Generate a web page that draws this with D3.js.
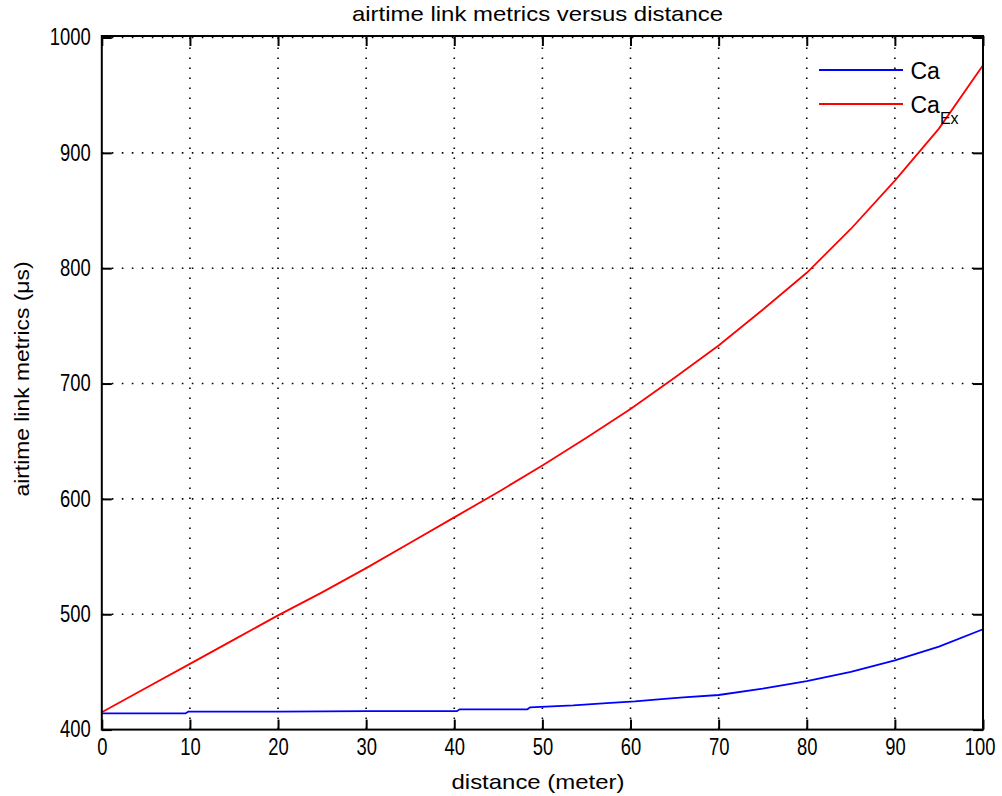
<!DOCTYPE html>
<html>
<head>
<meta charset="utf-8">
<script src="https://d3js.org/d3.v7.min.js"></script>
<title>airtime link metrics versus distance</title>
<style type="text/css">
body {
  margin: 0;
  background: #fff;
}
svg text {
  font-family: "Liberation Sans", Arial, sans-serif;
  fill: #000;
}
.grid line {
  stroke: #000;
  stroke-width: 1.6;
  stroke-dasharray: 1.6 8.4;
}
.axis path { display: none; }
.axis line { stroke: #000; stroke-width: 2; }
</style>
</head>
<body>
<svg id="chart"></svg>

<script>
// distances (meter) and metric values (us)
var redDist = [0, 5, 10, 15, 20, 25, 30, 35, 40, 45, 50, 55, 60, 65, 70, 75, 80, 85, 90, 95, 100];
var redVals = [415, 436, 457, 478, 499, 519, 540, 562, 584, 606, 629, 653, 678, 705, 733, 764, 796, 834, 876, 921, 976];

var blueDist = [0, 9.5, 9.8, 20, 30, 40.3, 40.6, 48.3, 48.6, 53.5, 57.3, 60.5, 63.5, 66, 70, 75, 80, 85, 90, 95, 100];
var blueVals = [414, 414, 415.5, 415.5, 416, 416, 417.6, 417.6, 419.3, 421, 423, 424.5, 426.5, 428, 430, 435.5, 442, 450, 460, 472, 487];

var xTicks = [0, 10, 20, 30, 40, 50, 60, 70, 80, 90, 100];
var yTicks = [400, 500, 600, 700, 800, 900, 1000];

var seriesNames = ["Ca", "Ca"];
var seriesSubs = ["", "Ex"];
var seriesColors = ["#0000ff", "#ff0000"];

var width = 1002, height = 796;
var plotLeft = 101.8, plotRight = 983, plotTop = 37.5, plotBottom = 729.6;

var svg = d3.select("#chart")
  .attr("width", width)
  .attr("height", height);

svg.append("rect")
  .attr("width", width).attr("height", height)
  .attr("fill", "#fff");

var x = d3.scaleLinear().domain([0, 100]).range([plotLeft, plotRight]);
var y = d3.scaleLinear().domain([400, 1000]).range([plotBottom, plotTop]);

// dotted grid
var grid = svg.append("g").attr("class", "grid");
grid.selectAll(".vx")
  .data(xTicks.slice(1, -1))
  .enter().append("line")
  .attr("x1", function(d) { return x(d); })
  .attr("x2", function(d) { return x(d); })
  .attr("y1", plotTop)
  .attr("y2", plotBottom);
grid.selectAll(".hy")
  .data(yTicks.slice(1))
  .enter().append("line")
  .attr("x1", plotLeft)
  .attr("x2", plotRight)
  .attr("y1", function(d) { return y(d); })
  .attr("y2", function(d) { return y(d); });

// series
var line = d3.line()
  .x(function(d) { return x(d[0]); })
  .y(function(d) { return y(d[1]); });

var blueData = d3.zip(blueDist, blueVals);
var redData = d3.zip(redDist, redVals);

svg.append("path")
  .datum(blueData)
  .attr("d", line)
  .attr("fill", "none")
  .attr("stroke", seriesColors[0])
  .attr("stroke-width", 1.8);

svg.append("path")
  .datum(redData)
  .attr("d", line)
  .attr("fill", "none")
  .attr("stroke", seriesColors[1])
  .attr("stroke-width", 1.8);

// axes, ticks pointing inward on all four sides
var xAxisG = svg.append("g")
  .attr("class", "axis")
  .attr("transform", "translate(0," + plotBottom + ")")
  .call(d3.axisBottom(x).tickValues(xTicks).tickFormat(d3.format("d"))
    .tickSizeInner(-10).tickSizeOuter(0).tickPadding(9));

svg.append("g")
  .attr("class", "axis")
  .attr("transform", "translate(" + plotLeft + ",0)")
  .call(d3.axisLeft(y).tickValues(yTicks).tickFormat(d3.format("d"))
    .tickSizeInner(-10).tickSizeOuter(0).tickPadding(11));

svg.append("g")
  .attr("class", "axis")
  .attr("transform", "translate(0,36)")
  .call(d3.axisTop(x).tickValues(xTicks).tickSizeInner(-10).tickSizeOuter(0).tickFormat(""));

svg.append("g")
  .attr("class", "axis")
  .attr("transform", "translate(" + plotRight + ",0)")
  .call(d3.axisRight(y).tickValues(yTicks).tickSizeInner(-10).tickSizeOuter(0).tickFormat(""));

// squeeze tick labels a bit, the original font is narrow
svg.selectAll(".axis text")
  .attr("font-size", 23)
  .style("font-family", "'Liberation Sans', Arial, sans-serif")
  .attr("fill", "#000")
  .each(function() {
    var w = this.getComputedTextLength();
    if (w > 0) {
      d3.select(this)
        .attr("textLength", w * 0.8)
        .attr("lengthAdjust", "spacingAndGlyphs");
    }
  });

// last x label sits against the window edge, keep it inside
xAxisG.selectAll(".tick")
  .filter(function(d) { return d === 100; })
  .select("text")
  .attr("text-anchor", "end")
  .attr("x", 12);

// box
svg.append("rect")
  .attr("x", plotLeft)
  .attr("y", 36)
  .attr("width", plotRight - plotLeft)
  .attr("height", plotBottom - 36)
  .attr("fill", "none")
  .attr("stroke", "#000")
  .attr("stroke-width", 2);

// titles
svg.append("text")
  .attr("x", 537.5)
  .attr("y", 21)
  .attr("text-anchor", "middle")
  .attr("font-size", 21)
  .attr("textLength", 371)
  .attr("lengthAdjust", "spacingAndGlyphs")
  .text("airtime link metrics versus distance");

svg.append("text")
  .attr("x", 538)
  .attr("y", 789)
  .attr("text-anchor", "middle")
  .attr("font-size", 21)
  .attr("textLength", 173)
  .attr("lengthAdjust", "spacingAndGlyphs")
  .text("distance (meter)");

svg.append("text")
  .attr("transform", "translate(29,379) rotate(-90)")
  .attr("text-anchor", "middle")
  .attr("font-size", 21)
  .attr("textLength", 235)
  .attr("lengthAdjust", "spacingAndGlyphs")
  .text("airtime link metrics (\u03bcs)");

// legend
var legend = svg.append("g").attr("class", "legend");
var legendY = [70, 104];
seriesNames.forEach(function(name, i) {
  legend.append("line")
    .attr("x1", 819).attr("x2", 903)
    .attr("y1", legendY[i]).attr("y2", legendY[i])
    .attr("stroke", seriesColors[i])
    .attr("stroke-width", 1.8);
  var t = legend.append("text")
    .attr("x", 910.5)
    .attr("y", legendY[i] + 9)
    .attr("font-size", 23)
    .text(name);
  if (seriesSubs[i]) {
    t.append("tspan")
      .attr("font-size", 16)
      .attr("dy", 11)
      .text(seriesSubs[i]);
  }
});
</script>
</body>
</html>
